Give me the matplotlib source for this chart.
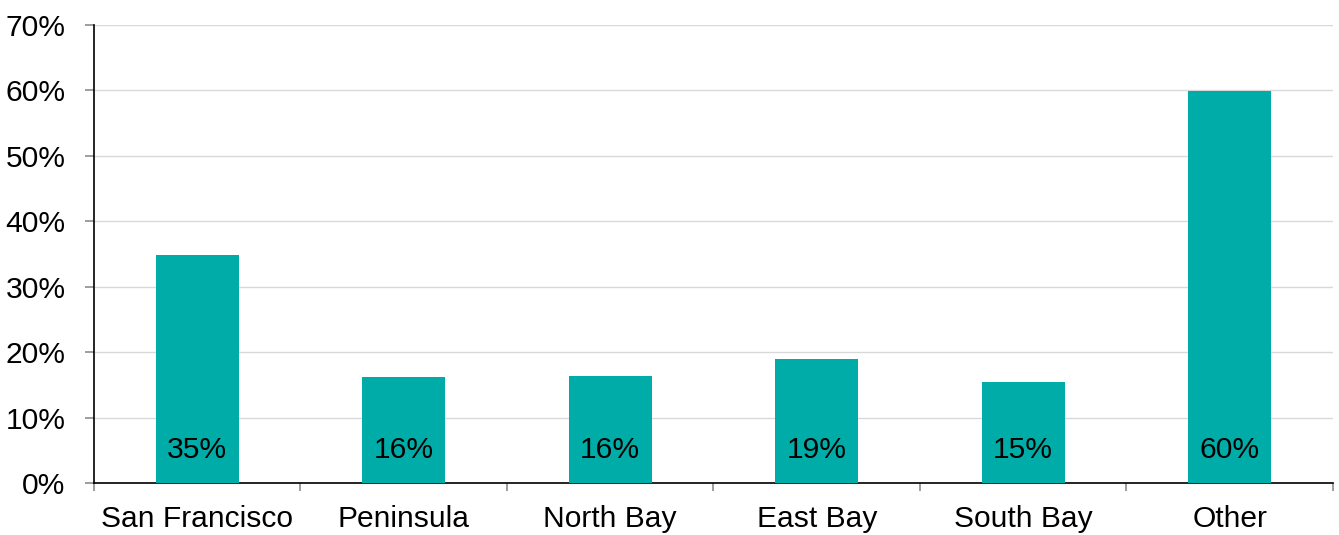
import matplotlib.pyplot as plt
from matplotlib.ticker import FixedLocator, PercentFormatter

regions = ["San Francisco", "Peninsula", "North Bay", "East Bay", "South Bay", "Other"]
shares = [34.8, 16.2, 16.3, 18.9, 15.4, 59.9]
y_ticks = [0, 10, 20, 30, 40, 50, 60, 70]

BAR_COLOR = "#00aca8"
TICK_COLOR = "#8c8c8c"

plt.rcParams["font.family"] = ["Liberation Sans", "DejaVu Sans"]
plt.rcParams["font.size"] = 21.6

fig = plt.figure(figsize=(13.39, 5.35), dpi=100)
ax = fig.add_axes([0.0702, 0.0972, 0.9253, 0.8561])

x = list(range(len(regions)))
ax.bar(x, shares, width=0.4, color=BAR_COLOR, zorder=3)

# value labels sit near the base of each bar
for xi, v in zip(x, shares):
    ax.annotate(f"{v:.0f}%", xy=(xi, 0), xytext=(0, 24), textcoords="offset points",
                ha="center", va="center", color="black", zorder=4)

ax.set_xlim(-0.5, len(regions) - 0.5)
ax.set_ylim(0, 70)
ax.set_yticks(y_ticks)
ax.yaxis.set_major_formatter(PercentFormatter(decimals=0))
ax.grid(axis="y", color="#d9d9d9", linewidth=1.0, zorder=0)

ax.set_xticks(x)
ax.set_xticklabels(regions)
ax.xaxis.set_minor_locator(FixedLocator([i - 0.5 for i in range(len(regions) + 1)]))
ax.tick_params(axis="x", which="major", length=0, pad=16)
ax.tick_params(axis="x", which="minor", length=6, color=TICK_COLOR, width=1.2)
ax.tick_params(axis="y", length=6.5, color=TICK_COLOR, width=1.2, pad=14)

for side in ("top", "right"):
    ax.spines[side].set_visible(False)
for side in ("left", "bottom"):
    ax.spines[side].set_color("black")
    ax.spines[side].set_linewidth(1.2)

fig.savefig("out.png", dpi=100)
plt.close(fig)
